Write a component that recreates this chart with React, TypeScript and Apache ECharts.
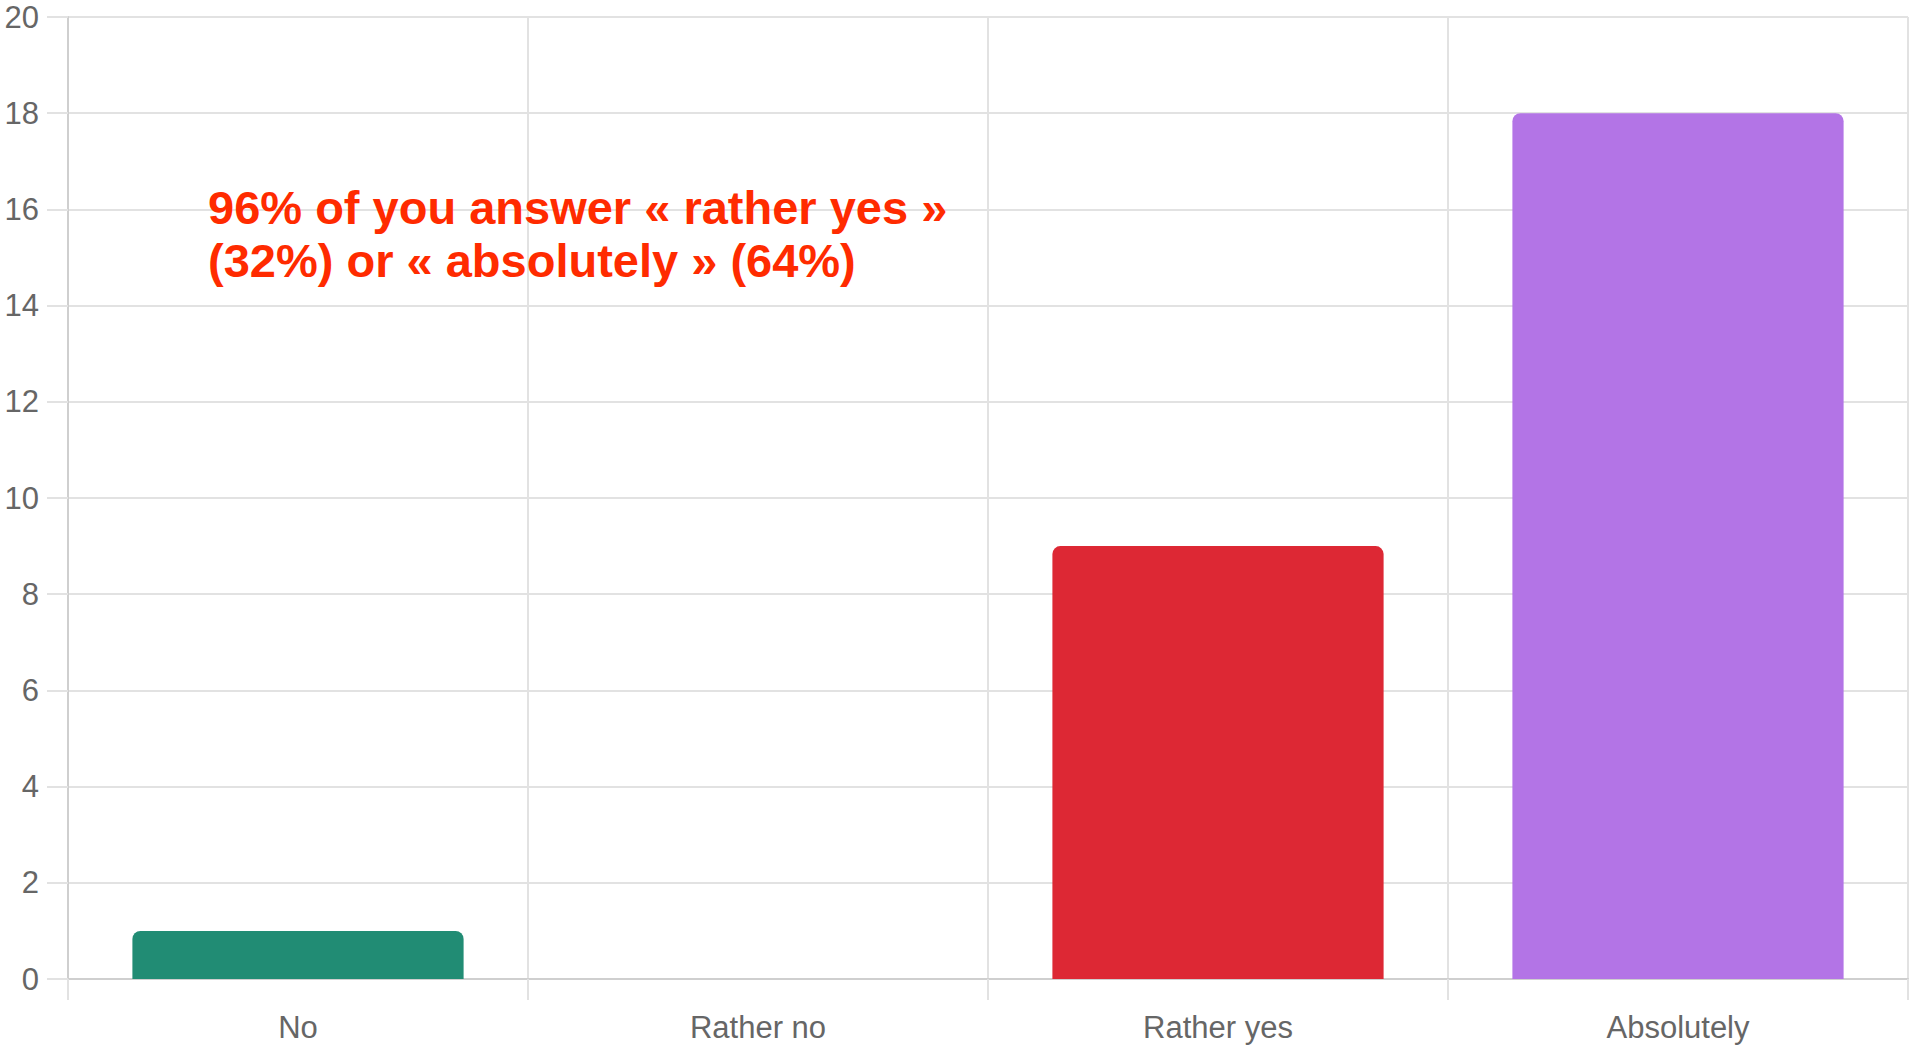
import React, { useEffect, useRef } from "react";
import * as echarts from "echarts";

const categories = ["No", "Rather no", "Rather yes", "Absolutely"];
const counts = [1, 0, 9, 18];
const barColors = ["#218c74", "#b8b8b8", "#dd2834", "#b374e6"];
const yTicks = { min: 0, max: 20, interval: 2 };
const annotationLines = ["96% of you answer « rather yes »", "(32%) or « absolutely » (64%)"];

export default function App() {
  const ref = useRef<HTMLDivElement>(null);
  useEffect(() => {
    document.body.style.margin = "0";
    if (!ref.current) return;
    const chart = echarts.init(ref.current, null, { renderer: "svg" });
    chart.setOption({
      animation: false,
      backgroundColor: "#ffffff",
      grid: { left: 68, right: 6, top: 17, bottom: 66, containLabel: false },
      xAxis: {
        type: "category",
        data: categories,
        boundaryGap: true,
        axisLine: { show: true, lineStyle: { color: "#cfcfcf", width: 2 } },
        axisTick: { show: true, length: 21, alignWithLabel: false, lineStyle: { color: "#e2e2e2", width: 2 } },
        splitLine: { show: true, lineStyle: { color: "#e2e2e2", width: 2 } },
        axisLabel: {
          color: "#666666",
          fontSize: 31,
          fontFamily: "Liberation Sans, Arial, sans-serif",
          margin: 33,
        },
      },
      yAxis: {
        type: "value",
        min: yTicks.min,
        max: yTicks.max,
        interval: yTicks.interval,
        axisLine: { show: true, lineStyle: { color: "#cfcfcf", width: 2 } },
        axisTick: { show: true, length: 21, lineStyle: { color: "#e2e2e2", width: 2 } },
        splitLine: { show: true, lineStyle: { color: "#e2e2e2", width: 2 } },
        axisLabel: {
          color: "#666666",
          fontSize: 31,
          fontFamily: "Liberation Sans, Arial, sans-serif",
          margin: 29,
        },
      },
      series: [
        {
          type: "bar",
          data: counts.map((v, i) => ({ value: v, itemStyle: { color: barColors[i] } })),
          barWidth: "72%",
          itemStyle: { borderRadius: [8, 8, 0, 0] },
        },
      ],
      graphic: annotationLines.map((t, i) => ({
        type: "text",
        left: 208,
        top: 181 + i * 53,
        z: 10,
        style: {
          text: t,
          fill: "#ff2b00",
          font: "bold 47px 'Liberation Sans', Arial, sans-serif",
          lineHeight: 52,
        },
      })),
    });
    return () => chart.dispose();
  }, []);
  return <div ref={ref} style={{ width: 1914, height: 1045 }} />;
}
